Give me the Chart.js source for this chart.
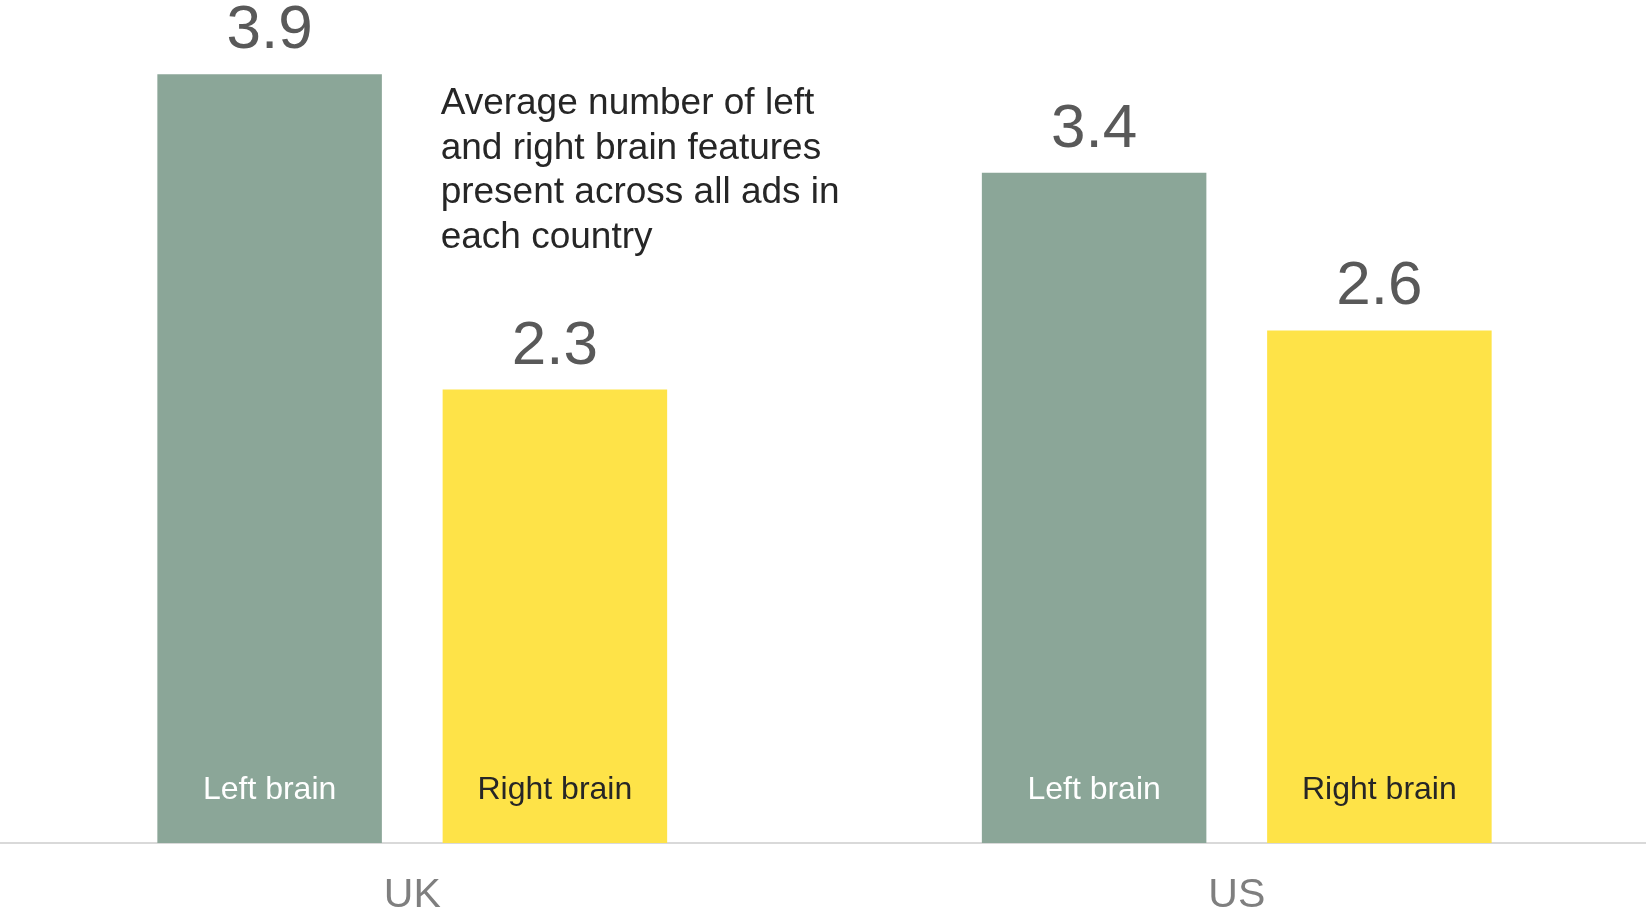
<!DOCTYPE html>
<html>
<head>
<meta charset="utf-8">
<script src="https://cdn.jsdelivr.net/npm/chart.js@4/dist/chart.umd.min.js"></script>
<style>
  html, body { margin: 0; padding: 0; background: #ffffff; overflow: hidden; }
  #wrap { width: 1646px; height: 915px; position: relative; overflow: hidden; }
  #c { display: block; }
</style>
</head>
<body>
<div id="wrap"><canvas id="c" width="1649" height="915"></canvas></div>
<script>
const categories = ['UK', 'US'];
const seriesNames = ['Left brain', 'Right brain'];
const leftBrain = [3.9, 3.4];
const rightBrain = [2.3, 2.6];
const annotationLines = [
  'Average number of left',
  'and right brain features',
  'present across all ads in',
  'each country'
];

const FONT = "'Liberation Sans', Arial, sans-serif";

const labelPlugin = {
  id: 'labels',
  afterDatasetsDraw(chart) {
    const ctx = chart.ctx;
    ctx.save();
    chart.data.datasets.forEach((ds, di) => {
      const meta = chart.getDatasetMeta(di);
      meta.data.forEach((bar, i) => {
        const v = ds.data[i];
        ctx.textAlign = 'center';
        ctx.textBaseline = 'alphabetic';
        ctx.font = '62px ' + FONT;
        ctx.fillStyle = '#595959';
        ctx.fillText(v.toFixed(1), bar.x, bar.y - 26);
        ctx.font = '32px ' + FONT;
        ctx.fillStyle = di === 0 ? '#ffffff' : '#262626';
        ctx.fillText(ds.label, bar.x, bar.base - 44);
      });
    });
    // annotation text, anchored to the left edge of the UK "Right brain" bar
    const ref = chart.getDatasetMeta(1).data[0];
    const left = ref.x - ref.width / 2 - 2;
    ctx.textAlign = 'left';
    ctx.textBaseline = 'alphabetic';
    ctx.font = '37px ' + FONT;
    ctx.fillStyle = '#262626';
    annotationLines.forEach((t, k) => {
      ctx.fillText(t, left, 114 + k * 44.6);
    });
    ctx.restore();
  }
};

new Chart(document.getElementById('c'), {
  type: 'bar',
  data: {
    labels: categories,
    datasets: [
      { label: seriesNames[0], data: leftBrain, backgroundColor: '#8ba698' },
      { label: seriesNames[1], data: rightBrain, backgroundColor: '#fee348' }
    ]
  },
  options: {
    responsive: false,
    animation: false,
    devicePixelRatio: 1,
    layout: { padding: 0 },
    datasets: { bar: { categoryPercentage: 0.692, barPercentage: 0.787 } },
    plugins: { legend: { display: false }, tooltip: { enabled: false }, title: { display: false } },
    scales: {
      x: {
        grid: { display: false, drawTicks: false },
        border: { display: true, color: '#d9d9d9', width: 2 },
        ticks: { color: '#7f7f7f', font: { family: FONT, size: 41 }, padding: 28 },
        afterFit(scale) { scale.height = 72; }
      },
      y: {
        display: false,
        min: 0,
        max: 4.276
      }
    }
  },
  plugins: [labelPlugin]
});
</script>
</body>
</html>
